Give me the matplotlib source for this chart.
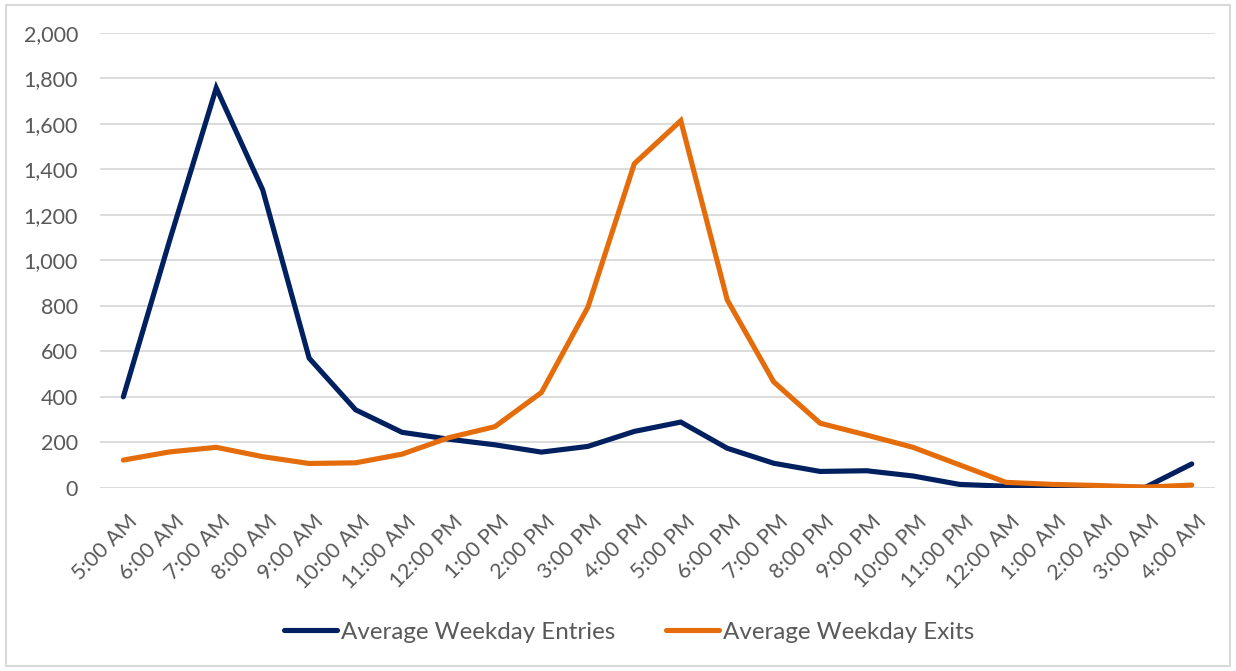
"""
Average weekday entries and exits by hour (line chart).
"""

import matplotlib
matplotlib.use("Agg")
import matplotlib.pyplot as plt
import matplotlib.ticker as mticker
import matplotlib.transforms as mtransforms
from matplotlib.patches import Rectangle

plt.rcParams["font.family"] = ["Lato", "DejaVu Sans"]

# ---------------------------------------------------------------------------
# Data
# ---------------------------------------------------------------------------

hours = ["5:00 AM", "6:00 AM", "7:00 AM", "8:00 AM", "9:00 AM", "10:00 AM",
         "11:00 AM", "12:00 PM", "1:00 PM", "2:00 PM", "3:00 PM", "4:00 PM",
         "5:00 PM", "6:00 PM", "7:00 PM", "8:00 PM", "9:00 PM", "10:00 PM",
         "11:00 PM", "12:00 AM", "1:00 AM", "2:00 AM", "3:00 AM", "4:00 AM"]

entries = [400, 1090, 1758, 1310, 570, 343, 244, 214, 189, 157, 182, 248,
           289, 174, 108, 72, 75, 52, 15, 7, 4, 3, 2, 105]

exits = [122, 158, 178, 137, 107, 110, 148, 220, 269, 419, 794, 1425,
         1614, 826, 466, 284, 232, 178, 101, 24, 15, 10, 3, 12]

NAVY = "#002060"
ORANGE = "#E46C0A"
TEXT = "#595959"
GRID = "#D9D9D9"

# ---------------------------------------------------------------------------
# Figure
# ---------------------------------------------------------------------------

fig = plt.figure(figsize=(12.36, 6.71), dpi=100)
ax = fig.add_axes([0.081, 0.273, 0.902, 0.678])

x = range(len(hours))
ax.plot(x, entries, color=NAVY, linewidth=3.7, solid_joinstyle="miter",
        solid_capstyle="round", label="Average Weekday Entries", zorder=3)
ax.plot(x, exits, color=ORANGE, linewidth=3.7, solid_joinstyle="miter",
        solid_capstyle="round", label="Average Weekday Exits", zorder=3)

ax.set_xlim(-0.5, len(hours) - 0.5)
ax.set_ylim(0, 2000)
ax.yaxis.set_major_locator(mticker.MultipleLocator(200))
ax.yaxis.set_major_formatter(mticker.StrMethodFormatter("{x:,.0f}"))
ax.grid(axis="y", color=GRID, linewidth=1.3)
ax.set_axisbelow(True)
for s in ax.spines.values():
    s.set_visible(False)

ax.set_xticks(list(x))
ax.set_xticklabels(hours, rotation=45, ha="right", va="top",
                   rotation_mode="anchor")
ax.tick_params(axis="both", length=0, labelsize=15.5, labelcolor=TEXT)
ax.tick_params(axis="x", pad=17)
ax.tick_params(axis="y", pad=16)

# nudge rotated labels slightly right, like the original
shift = mtransforms.ScaledTranslation(4 / 100, 0, fig.dpi_scale_trans)
for lbl in ax.get_xticklabels():
    lbl.set_transform(lbl.get_transform() + shift)

fig.legend(loc="center", bbox_to_anchor=(0.509, 0.058), ncol=2, frameon=False,
           fontsize=17.4, labelcolor=TEXT, handlelength=2.2, handletextpad=0.15,
           columnspacing=2.1)

# chart-area border
fig.patches.append(Rectangle((0.005, 0.007), 0.99, 0.986, transform=fig.transFigure,
                             fill=False, edgecolor=GRID, linewidth=1.5))

fig.savefig("out.png", dpi=100)
